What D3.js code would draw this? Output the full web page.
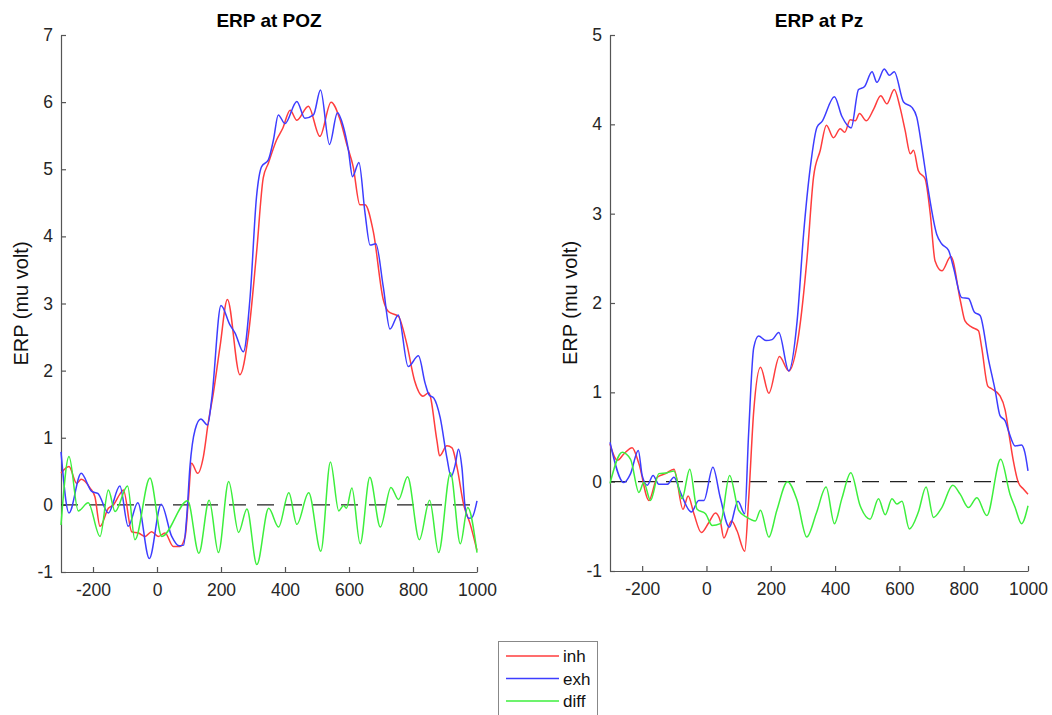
<!DOCTYPE html>
<html>
<head>
<meta charset="utf-8">
<script src="https://cdnjs.cloudflare.com/ajax/libs/d3/7.8.5/d3.min.js"></script>
<style>
  body { margin: 0; background: #fff; }
  svg { font-family: "Liberation Sans", Arial, Helvetica, sans-serif; }
  .tick text { font-size: 17.5px; fill: #262626; }
  .tick line, .domain { stroke: #555; stroke-width: 1.2; }
</style>
</head>
<body>
<svg id="chart" width="1052" height="715"></svg>
<script>
// time in ms, ERP in mu volt
var xTicks = [-200, 0, 200, 400, 600, 800, 1000];
var pozTicks = [-1, 0, 1, 2, 3, 4, 5, 6, 7];
var pzTicks = [-1, 0, 1, 2, 3, 4, 5];
var seriesNames = ["inh", "exh", "diff"];

var pozInh = [[-300,0.47],[-275,0.57],[-251,0.32],[-237,0.38],[-209,0.25],[-194,0.12],[-178,-0.32],[-152,-0.05],[-136,0.0],[-116,0.16],[-105,0.22],[-79,-0.40],[-58,-0.42],[-37,-0.47],[-17,-0.40],[4,-0.47],[25,-0.42],[51,-0.62],[72,-0.62],[88,-0.47],[98,0.07],[108,0.62],[127,0.47],[145,0.72],[160,1.22],[176,1.66],[197,2.36],[220,3.06],[259,1.94],[285,2.51],[311,3.75],[332,4.87],[348,5.09],[374,5.44],[393,5.61],[416,5.88],[437,5.73],[473,5.94],[509,5.49],[544,6.00],[572,5.74],[593,5.37],[613,5.04],[634,4.47],[650,4.47],[676,4.07],[707,3.06],[723,2.88],[754,2.81],[780,2.41],[805,1.85],[831,1.62],[849,1.67],[875,0.95],[883,0.73],[906,0.88],[922,0.85],[938,0.55],[958,0.01],[979,-0.29],[1000,-0.68]];
var pozExh = [[-300,0.79],[-275,-0.12],[-237,0.47],[-204,0.20],[-185,0.17],[-152,-0.12],[-116,0.28],[-90,-0.32],[-60,0.03],[-24,-0.80],[13,0.01],[46,-0.47],[69,-0.61],[83,-0.60],[93,-0.17],[103,0.57],[119,1.12],[137,1.28],[158,1.19],[171,1.58],[200,2.97],[228,2.68],[244,2.56],[270,2.28],[291,3.10],[311,4.59],[327,5.04],[348,5.14],[364,5.44],[379,5.81],[400,5.68],[437,6.01],[462,5.76],[489,5.81],[511,6.18],[539,5.37],[564,5.84],[582,5.64],[598,5.29],[611,4.89],[631,5.10],[650,4.35],[666,3.87],[684,3.89],[707,3.25],[728,2.62],[754,2.83],[785,2.06],[817,2.22],[838,1.81],[850,1.64],[865,1.59],[885,1.30],[906,0.70],[919,0.42],[932,0.60],[942,0.83],[953,0.55],[963,-0.04],[974,-0.20],[984,-0.19],[1000,0.06]];
var pozDiff = [[-300,-0.30],[-275,0.72],[-246,-0.09],[-215,0.03],[-178,-0.47],[-152,0.22],[-131,-0.10],[-92,0.28],[-69,-0.52],[-22,0.40],[15,-0.47],[96,0.06],[131,-0.72],[163,0.07],[192,-0.71],[224,0.35],[255,-0.41],[281,-0.06],[312,-0.89],[349,-0.05],[380,-0.33],[412,0.18],[437,-0.29],[474,0.18],[512,-0.69],[542,0.64],[568,-0.09],[583,-0.01],[592,-0.05],[609,0.25],[635,-0.58],[665,0.41],[698,-0.33],[731,0.26],[755,0.08],[783,0.42],[820,-0.52],[852,0.07],[880,-0.71],[917,0.48],[948,-0.58],[971,-0.04],[1000,-0.71]];

var pzInh = [[-300,0.42],[-277,0.24],[-257,0.31],[-231,0.38],[-210,0.20],[-179,-0.21],[-153,0.05],[-127,0.09],[-101,0.14],[-73,-0.31],[-57,-0.16],[-39,-0.36],[-16,-0.57],[7,-0.46],[28,-0.35],[43,-0.44],[54,-0.63],[78,-0.44],[95,-0.55],[119,-0.78],[131,-0.21],[147,0.79],[168,1.28],[194,0.99],[227,1.40],[256,1.24],[287,1.65],[313,2.51],[333,3.41],[354,3.71],[373,3.99],[395,3.85],[416,3.95],[430,3.91],[447,4.05],[463,4.04],[476,4.12],[497,4.04],[520,4.17],[542,4.32],[561,4.23],[584,4.39],[602,4.19],[618,3.93],[634,3.67],[644,3.71],[659,3.48],[680,3.39],[696,3.00],[711,2.47],[732,2.36],[760,2.52],[790,2.02],[804,1.80],[825,1.73],[846,1.69],[856,1.50],[875,1.07],[887,1.04],[913,0.96],[929,0.80],[941,0.53],[954,0.24],[970,-0.01],[985,-0.08],[1000,-0.14]];
var pzExh = [[-300,0.44],[-257,-0.01],[-236,0.09],[-212,0.35],[-200,0.07],[-184,-0.04],[-166,0.07],[-148,-0.03],[-122,-0.03],[-101,0.05],[-81,-0.12],[-47,-0.34],[-24,-0.21],[-8,-0.21],[20,0.16],[43,-0.18],[71,-0.51],[98,-0.22],[119,-0.36],[131,0.53],[147,1.50],[162,1.63],[185,1.58],[204,1.59],[225,1.67],[256,1.24],[282,1.80],[302,2.77],[323,3.52],[344,3.97],[359,4.03],[398,4.31],[421,4.09],[450,3.96],[473,4.39],[491,4.42],[515,4.59],[530,4.47],[553,4.62],[569,4.55],[584,4.59],[613,4.25],[639,4.19],[654,4.08],[670,3.74],[690,3.26],[716,2.77],[732,2.66],[753,2.59],[768,2.40],[794,2.06],[815,2.05],[833,1.90],[851,1.86],[877,1.37],[898,1.02],[913,0.74],[929,0.68],[941,0.55],[960,0.40],[980,0.41],[990,0.33],[1000,0.12]];
var pzDiff = [[-300,-0.02],[-262,0.33],[-236,0.25],[-210,-0.12],[-195,-0.01],[-174,-0.21],[-148,0.09],[-122,0.10],[-101,0.12],[-76,-0.19],[-52,0.14],[-29,-0.31],[-3,-0.36],[18,-0.49],[43,-0.47],[72,0.07],[100,-0.32],[126,-0.40],[152,-0.44],[168,-0.32],[194,-0.62],[219,-0.32],[252,0.0],[282,-0.21],[312,-0.62],[342,-0.35],[372,-0.06],[398,-0.47],[421,-0.19],[449,0.10],[478,-0.27],[509,-0.42],[535,-0.19],[556,-0.37],[577,-0.19],[592,-0.25],[608,-0.22],[631,-0.53],[659,-0.34],[683,-0.06],[706,-0.40],[732,-0.29],[766,-0.04],[789,-0.14],[815,-0.29],[841,-0.18],[872,-0.38],[915,0.25],[944,-0.14],[960,-0.29],[980,-0.47],[1000,-0.27]];

var colors = ["#ff3d3d", "#3d3dff", "#3def3d"];
var svg = d3.select("#chart");
var plainNum = function(d) { return String(d); };

function drawPanel(p) {
	var x = d3.scaleLinear().domain([-300, 1000]).range([p.left, p.right]);
	var y = d3.scaleLinear().domain([p.ticks[0], p.ticks[p.ticks.length - 1]]).range([p.bottom, p.top]);
	var g = svg.append("g");

	g.append("g")
		.attr("transform", "translate(0," + p.bottom + ")")
		.call(d3.axisBottom(x).tickValues(xTicks).tickFormat(plainNum).tickSizeInner(-5).tickSizeOuter(0).tickPadding(12));
	g.append("g")
		.attr("transform", "translate(" + p.left + ",0)")
		.call(d3.axisLeft(y).tickValues(p.ticks).tickFormat(plainNum).tickSizeInner(-5).tickSizeOuter(0).tickPadding(8));

	// dashed zero line
	g.append("line")
		.attr("x1", x(-300)).attr("x2", x(1000))
		.attr("y1", y(0)).attr("y2", y(0))
		.attr("stroke", "#222").attr("stroke-width", 1.3)
		.attr("stroke-dasharray", "17,11");

	var line = d3.line()
		.x(function(d) { return x(d[0]); })
		.y(function(d) { return y(d[1]); })
		.curve(d3.curveMonotoneX);

	p.series.forEach(function(s, i) {
		g.append("path")
			.datum(s)
			.attr("fill", "none")
			.attr("stroke", colors[i])
			.attr("stroke-width", 1.5)
			.attr("d", line);
	});

	g.append("text")
		.attr("x", (p.left + p.right) / 2).attr("y", 27)
		.attr("text-anchor", "middle")
		.style("font-size", "19px").style("font-weight", "bold")
		.text(p.title);

	//y axis label
	g.append("text")
		.attr("transform", "translate(" + (p.left - 33) + "," + ((p.top + p.bottom) / 2) + ") rotate(-90)")
		.attr("text-anchor", "middle")
		.style("font-size", "20px").attr("fill", "#111")
		.text("ERP (mu volt)");
}

drawPanel({ title: "ERP at POZ", left: 61, right: 477, top: 35, bottom: 572, ticks: pozTicks, series: [pozInh, pozExh, pozDiff] });
drawPanel({ title: "ERP at Pz", left: 610, right: 1028, top: 35, bottom: 571, ticks: pzTicks, series: [pzInh, pzExh, pzDiff] });

// legend
var legend = svg.append("g");
legend.append("rect")
	.attr("x", 498.5).attr("y", 641.5).attr("width", 99).attr("height", 80)
	.attr("fill", "#fff").attr("stroke", "#888").attr("stroke-width", 1);
seriesNames.forEach(function(name, i) {
	var ly = 656 + i * 22.5;
	legend.append("line")
		.attr("x1", 506).attr("x2", 559).attr("y1", ly).attr("y2", ly)
		.attr("stroke", colors[i]).attr("stroke-width", 1.5);
	legend.append("text")
		.attr("x", 563).attr("y", ly + 6)
		.style("font-size", "17px").attr("fill", "#111")
		.text(name);
});
</script>
</body>
</html>
